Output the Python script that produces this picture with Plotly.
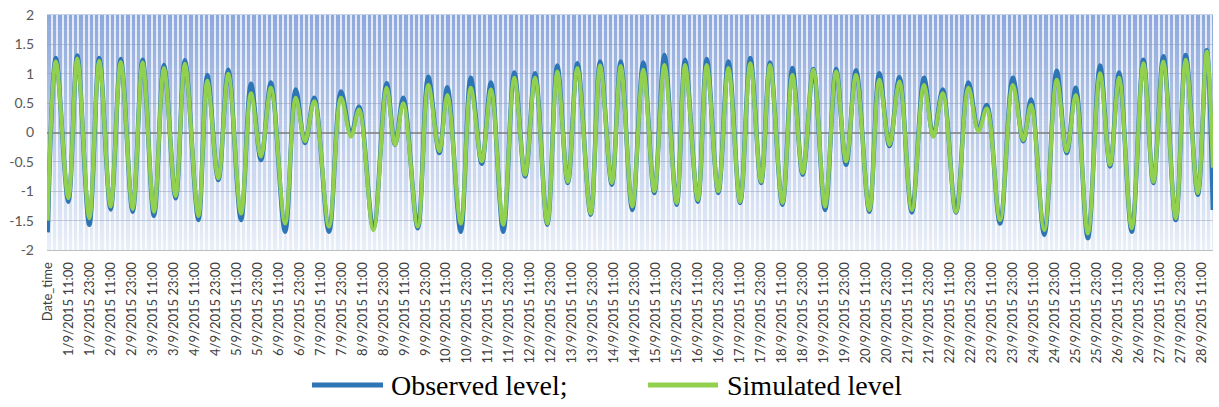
import plotly.graph_objects as go

# hour offset (category index, 0 = "Date_time") of each high/low water
ext_hours = [0, 4.7, 11.8, 16.9, 23.8, 29.5, 36.0, 41.8, 48.6, 54.3,
             60.8, 66.5, 73.2, 78.5, 86.2, 91.3, 97.6, 103.3, 110.6, 116.3,
             122.0, 127.7, 135.8, 141.9, 147.2, 152.5, 160.9, 167.8, 173.5, 178.1,
             186.3, 193.9, 198.7, 203.4, 211.7, 217.7, 224.0, 228.6, 236.3, 242.0,
             248.3, 253.6, 260.6, 266.9, 273.1, 278.8, 285.8, 291.5, 297.5, 303.0,
             310.6, 316.0, 322.7, 327.8, 334.4, 340.7, 347.0, 352.8, 359.8, 364.6,
             371.9, 377.0, 383.6, 389.4, 396.1, 401.9, 408.1, 413.2, 420.3, 426.0,
             431.9, 438.0, 444.7, 451.0, 456.7, 462.4, 470.0, 475.7, 481.5, 487.2,
             494.3, 501.3, 506.6, 512.0, 519.6, 526.7, 532.4, 537.2, 544.8, 552.1,
             558.1, 562.5, 570.1, 577.2, 582.9, 588.1, 595.0, 602.0, 607.7, 612.9,
             620.1, 626.8, 632.5, 638.2, 645.3, 651.0, 657.9, 663.0, 666.5]

observed = [-1.70, 1.27, -1.18, 1.31, -1.57, 1.27, -1.31, 1.25, -1.35, 1.24,
            -1.42, 1.15, -1.12, 1.23, -1.49, 0.98, -0.81, 1.07, -1.49, 0.83,
            -0.47, 0.85, -1.69, 0.73, -0.18, 0.59, -1.69, 0.70, -0.04, 0.44,
            -1.63, 0.84, -0.21, 0.59, -1.63, 0.95, -0.35, 0.77, -1.69, 0.93,
            -0.53, 0.85, -1.69, 1.02, -0.75, 1.01, -1.57, 1.14, -0.86, 1.18,
            -1.40, 1.21, -0.89, 1.21, -1.32, 1.19, -1.03, 1.32, -1.23, 1.24,
            -1.18, 1.25, -1.03, 1.21, -1.20, 1.27, -0.86, 1.19, -1.23, 1.10,
            -0.72, 1.08, -1.32, 1.08, -0.55, 1.06, -1.35, 1.01, -0.23, 0.94,
            -1.36, 0.93, -0.06, 0.73, -1.36, 0.85, 0.05, 0.47, -1.55, 0.93,
            -0.15, 0.56, -1.74, 1.05, -0.35, 0.76, -1.80, 1.14, -0.58, 1.02,
            -1.69, 1.24, -0.86, 1.30, -1.49, 1.32, -1.06, 1.40, -1.32]

simulated = [-1.50, 1.21, -1.12, 1.26, -1.46, 1.22, -1.26, 1.20, -1.30, 1.19,
             -1.35, 1.10, -1.08, 1.17, -1.42, 0.88, -0.78, 1.00, -1.38, 0.67,
             -0.41, 0.76, -1.55, 0.59, -0.15, 0.53, -1.60, 0.59, -0.07, 0.39,
             -1.66, 0.76, -0.21, 0.50, -1.60, 0.81, -0.32, 0.64, -1.55, 0.76,
             -0.49, 0.73, -1.57, 0.93, -0.72, 0.93, -1.55, 1.04, -0.84, 1.10,
             -1.38, 1.14, -0.86, 1.13, -1.26, 1.07, -1.00, 1.15, -1.20, 1.15,
             -1.15, 1.15, -1.00, 1.10, -1.18, 1.18, -0.84, 1.15, -1.20, 0.98,
             -0.69, 1.07, -1.26, 1.04, -0.49, 0.98, -1.32, 0.90, -0.21, 0.87,
             -1.32, 0.81, -0.07, 0.67, -1.35, 0.76, 0.02, 0.41, -1.49, 0.81,
             -0.13, 0.47, -1.66, 0.90, -0.32, 0.64, -1.72, 1.01, -0.55, 0.93,
             -1.63, 1.18, -0.84, 1.21, -1.46, 1.24, -1.03, 1.38, -0.60]

tick_labels = ["Date_time",
               "1/9/2015 11:00", "1/9/2015 23:00", "2/9/2015 11:00", "2/9/2015 23:00",
               "3/9/2015 11:00", "3/9/2015 23:00", "4/9/2015 11:00", "4/9/2015 23:00",
               "5/9/2015 11:00", "5/9/2015 23:00", "6/9/2015 11:00", "6/9/2015 23:00",
               "7/9/2015 11:00", "7/9/2015 23:00", "8/9/2015 11:00", "8/9/2015 23:00",
               "9/9/2015 11:00", "9/9/2015 23:00", "10/9/2015 11:00", "10/9/2015 23:00",
               "11/9/2015 11:00", "11/9/2015 23:00", "12/9/2015 11:00", "12/9/2015 23:00",
               "13/9/2015 11:00", "13/9/2015 23:00", "14/9/2015 11:00", "14/9/2015 23:00",
               "15/9/2015 11:00", "15/9/2015 23:00", "16/9/2015 11:00", "16/9/2015 23:00",
               "17/9/2015 11:00", "17/9/2015 23:00", "18/9/2015 11:00", "18/9/2015 23:00",
               "19/9/2015 11:00", "19/9/2015 23:00", "20/9/2015 11:00", "20/9/2015 23:00",
               "21/9/2015 11:00", "21/9/2015 23:00", "22/9/2015 11:00", "22/9/2015 23:00",
               "23/9/2015 11:00", "23/9/2015 23:00", "24/9/2015 11:00", "24/9/2015 23:00",
               "25/9/2015 11:00", "25/9/2015 23:00", "26/9/2015 11:00", "26/9/2015 23:00",
               "27/9/2015 11:00", "27/9/2015 23:00", "28/9/2015 11:00"]
tick_hours = [12 * i for i in range(len(tick_labels))]

y_ticks = [-2, -1.5, -1, -0.5, 0, 0.5, 1, 1.5, 2]
y_tick_text = ["-2", "-1.5", "-1", "-0.5", "0", "0.5", "1", "1.5", "2"]

BLUE = "#2E75B6"
GREEN = "#92D050"

fig = go.Figure()
fig.add_trace(go.Scatter(x=ext_hours, y=observed, mode="lines", name="Observed level;",
                         line=dict(color=BLUE, width=4.5, shape="spline", smoothing=1.0),
                         showlegend=False))
fig.add_trace(go.Scatter(x=ext_hours, y=simulated, mode="lines", name="Simulated level",
                         line=dict(color=GREEN, width=4, shape="spline", smoothing=1.0),
                         showlegend=False))

# vertical gradient background of the plot area
shapes = []
n_bands = 60
top = (141, 168, 219)
bot = (233, 239, 249)
for i in range(n_bands):
    t = i / (n_bands - 1)
    c = tuple(round(bot[k] + (top[k] - bot[k]) * t) for k in range(3))
    shapes.append(dict(type="rect", xref="x domain", yref="y domain",
                       x0=0, x1=1, y0=i / n_bands, y1=(i + 1) / n_bands + 0.002,
                       fillcolor="rgb(%d,%d,%d)" % c, line=dict(width=0), layer="below"))

W, H = 1219, 407
PL, PR, PT, PB = 47, 1213, 15, 250          # plot area in window pixels
ML, MR, MT, MB = PL, W - PR, PT, H - PB
pw, ph = PR - PL, PB - PT
def px(x):
    return (x - PL) / pw
def py(y):
    return (PB - y) / ph

# manual legend (long line keys as in the original)
leg_y = 385
shapes.append(dict(type="line", xref="paper", yref="paper", x0=px(312), x1=px(383),
                   y0=py(leg_y), y1=py(leg_y), line=dict(color=BLUE, width=5)))
shapes.append(dict(type="line", xref="paper", yref="paper", x0=px(648), x1=px(718),
                   y0=py(leg_y), y1=py(leg_y), line=dict(color=GREEN, width=5)))
annotations = [
    dict(text="Observed level;", xref="paper", yref="paper", x=px(389), y=py(leg_y),
         xanchor="left", yanchor="middle", showarrow=False,
         font=dict(family="Liberation Serif", size=28, color="#000000")),
    dict(text="Simulated level", xref="paper", yref="paper", x=px(725), y=py(leg_y),
         xanchor="left", yanchor="middle", showarrow=False,
         font=dict(family="Liberation Serif", size=28, color="#000000")),
]

fig.update_layout(
    width=W, height=H,
    margin=dict(l=ML, r=MR, t=MT, b=MB, autoexpand=False),
    paper_bgcolor="white",
    plot_bgcolor="rgba(0,0,0,0)",
    shapes=shapes,
    annotations=annotations,
    showlegend=False,
    xaxis=dict(
        range=[-0.4, 666.6], automargin=False,
        tickmode="array", tickvals=tick_hours, ticktext=tick_labels,
        tickangle=-90, ticks="", ticklabelstandoff=6,
        tickfont=dict(family="Lato", size=13, color="#404040"),
        showgrid=False, zeroline=False,
        showline=True, linecolor="#BFBFBF", linewidth=1,
        minor=dict(tickmode="linear", tick0=-0.5, dtick=3, showgrid=True,
                   gridcolor="rgba(255,255,255,0.75)", gridwidth=1.5, ticks=""),
    ),
    yaxis=dict(
        range=[-2, 2], automargin=False,
        tickmode="array", tickvals=y_ticks, ticktext=y_tick_text,
        tickfont=dict(family="Lato", size=14, color="#595959"),
        ticks="", ticklabelstandoff=12,
        showgrid=True, gridcolor="rgba(140,150,175,0.45)", gridwidth=1,
        zeroline=True, zerolinecolor="rgba(128,128,128,0.8)", zerolinewidth=1.5,
        showline=False,
    ),
)

# remove the browser's default 8px page margin so the figure fills the window
fig.write_html("out.html",
               config={"displayModeBar": False},
               post_script="document.body.style.margin='0px';document.body.style.overflow='hidden';")
